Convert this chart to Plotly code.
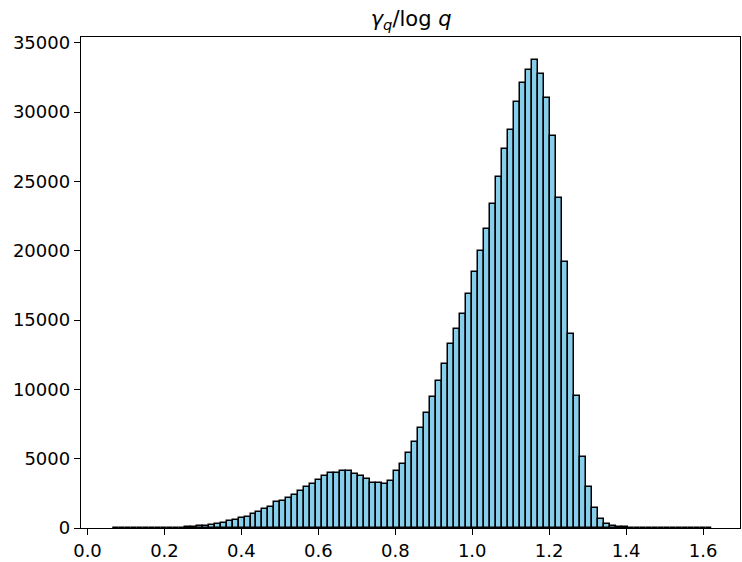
import plotly.graph_objects as go

# Histogram data (100 equal-width bins)
bin_start = 0.0656
bin_width = 0.01557
counts = [1, 1, 0, 1, 1, 2, 3, 5, 8, 12, 20, 30, 50, 75, 110, 150,
          215, 285, 380, 480, 575, 695, 765, 980, 1170, 1340, 1480, 1840, 1935, 2200, 2415, 2700, 2940, 3150,
          3490, 3725, 3940, 3990, 4085, 4085, 3895, 3775, 3510, 3225, 3225, 3175, 3415, 4085, 4585, 5400, 6230,
          7235, 8310, 9430, 10625, 11845, 13250, 14350, 15425, 16860, 18460, 20010, 21560, 23400, 25330, 27340,
          28725, 30750, 32070, 33020, 33740, 32785, 31000, 28245, 23830, 19175, 13990, 9500,
          5100, 2940, 1455, 670, 310, 165, 80, 40, 20, 10, 6, 4, 2, 1, 1, 1, 0, 1, 0, 0, 1, 1]
x_ticks = [0.0, 0.2, 0.4, 0.6, 0.8, 1.0, 1.2, 1.4, 1.6]
y_ticks = [0, 5000, 10000, 15000, 20000, 25000, 30000, 35000]
title_text = "<i>γ<sub>q</sub></i>/log <i>q</i>"

centers = [bin_start + (i + 0.5) * bin_width for i in range(len(counts))]

fig = go.Figure(go.Bar(
    x=centers, y=counts, width=bin_width,
    marker=dict(color="#87CEEB", line=dict(color="black", width=1.5)),
))

font = "DejaVu Sans, sans-serif"
fig.update_layout(
    width=742, height=562,
    margin=dict(l=81, r=1, t=37, b=31),
    paper_bgcolor="white", plot_bgcolor="white",
    bargap=0, showlegend=False,
    title=dict(text=title_text, x=0.554, xanchor="center", y=0.967, yanchor="middle",
               font=dict(family=font, size=21, color="black")),
    font=dict(family=font, size=18, color="black"),
)
fig.update_xaxes(range=[-0.0169, 1.6961], tickvals=x_ticks, ticktext=[f"{v:.1f}" for v in x_ticks],
                 showline=True, linecolor="black", linewidth=1.4, mirror=True,
                 ticks="outside", ticklen=6, tickwidth=1.4, tickcolor="black",
                 tickfont=dict(family=font, size=18, color="black"),
                 showgrid=False, zeroline=False)
fig.update_yaxes(range=[0, 35420], tickvals=y_ticks, ticktext=[str(v) for v in y_ticks],
                 showline=True, linecolor="black", linewidth=1.4, mirror=True,
                 ticks="outside", ticklen=6, tickwidth=1.4, tickcolor="black",
                 tickfont=dict(family=font, size=18, color="black"),
                 showgrid=False, zeroline=False)

fig.write_html("out.html", config={"displayModeBar": False},
               post_script="document.body.style.margin='0';document.body.style.overflow='hidden';")
